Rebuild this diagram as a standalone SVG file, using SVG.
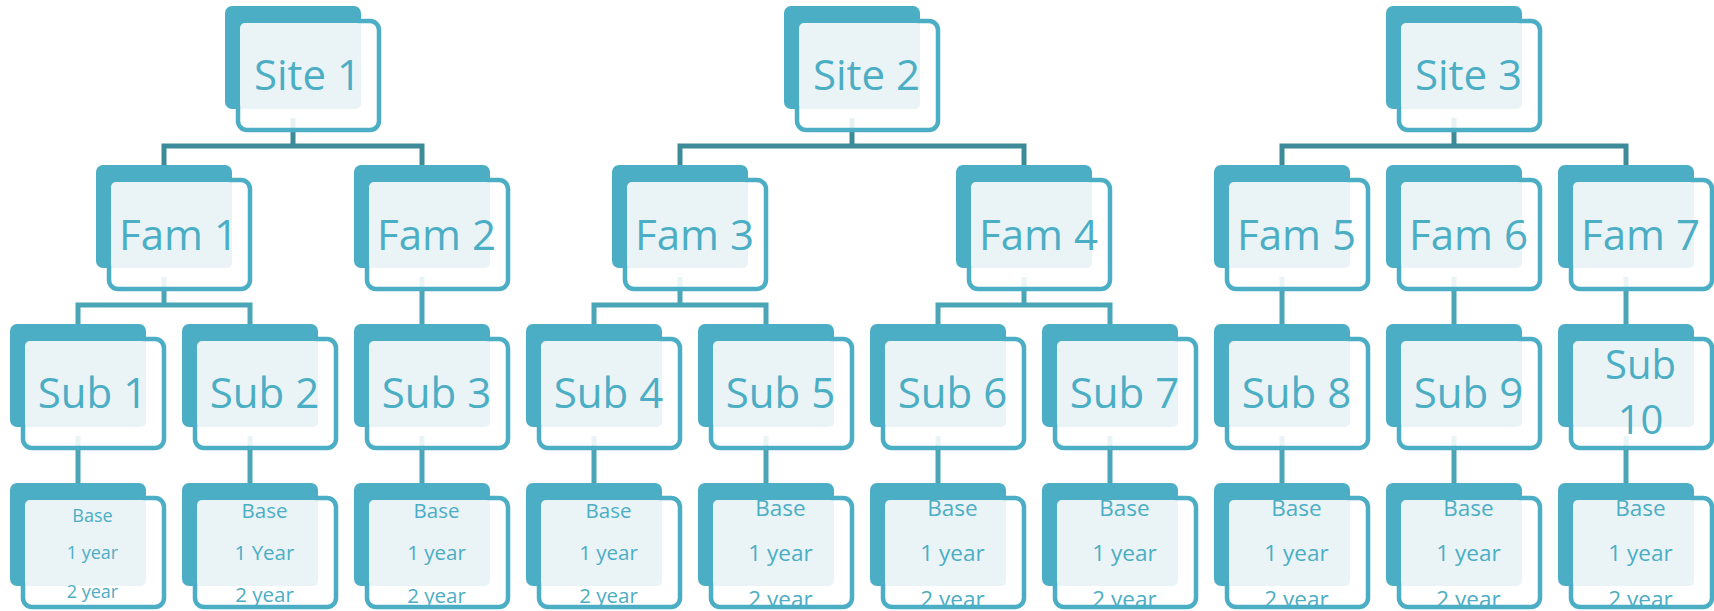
<svg xmlns="http://www.w3.org/2000/svg" width="1714" height="611" viewBox="0 0 1714 611">
<defs>
<style>
.back{fill:#4BAEC4}
.frame{fill:#fff;fill-opacity:0.88;stroke:#4BAEC4;stroke-width:4.5}
.light{fill:#EAF4F7}
.t{font-family:"Open Sans","Noto Sans","Liberation Sans",sans-serif;fill:#4BAEC4;text-anchor:middle}
.big{font-size:42px}
.two{font-size:40px}
.s18{font-size:18px}
.s20{font-size:20.5px}
.s22{font-size:22.5px}
.c1{fill:none;stroke:#3D8B99;stroke-width:5}
.c2{fill:none;stroke:#4AA5B7;stroke-width:5}
</style>
<clipPath id="inner"><rect x="15" y="17" width="137" height="105" rx="6"/></clipPath>
</defs>
<rect width="1714" height="611" fill="#fff"/>
<g id="connectors">
<path class="c1" d="M293,118V146M164,165V146H422V165"/>
<path class="c1" d="M852,118V146M680,165V146H1024V165"/>
<path class="c1" d="M1454,118V146M1282,165V146H1626V165"/>
<path class="c2" d="M164,277V305M78,324V305H250V324"/>
<path class="c2" d="M422,277V324"/>
<path class="c2" d="M680,277V305M594,324V305H766V324"/>
<path class="c2" d="M1024,277V305M938,324V305H1110V324"/>
<path class="c2" d="M1282,277V324M1454,277V324M1626,277V324"/>
<path class="c2" d="M78,436V483M250,436V483M422,436V483M594,436V483M766,436V483M938,436V483M1110,436V483M1282,436V483M1454,436V483M1626,436V483"/>
</g>
<g id="site1" transform="translate(225,6)"><rect class="back" width="136" height="103" rx="7"/><rect class="frame" x="13" y="15" width="141" height="109" rx="9"/><rect class="light" x="15" y="17" width="121" height="86" rx="5"/><text class="t big" x="82.5" y="84" clip-path="url(#inner)">Site 1</text></g>
<g id="site2" transform="translate(784,6)"><rect class="back" width="136" height="103" rx="7"/><rect class="frame" x="13" y="15" width="141" height="109" rx="9"/><rect class="light" x="15" y="17" width="121" height="86" rx="5"/><text class="t big" x="82.5" y="84" clip-path="url(#inner)">Site 2</text></g>
<g id="site3" transform="translate(1386,6)"><rect class="back" width="136" height="103" rx="7"/><rect class="frame" x="13" y="15" width="141" height="109" rx="9"/><rect class="light" x="15" y="17" width="121" height="86" rx="5"/><text class="t big" x="82.5" y="84" clip-path="url(#inner)">Site 3</text></g>
<g id="fam1" transform="translate(96,165)"><rect class="back" width="136" height="103" rx="7"/><rect class="frame" x="13" y="15" width="141" height="109" rx="9"/><rect class="light" x="15" y="17" width="121" height="86" rx="5"/><text class="t big" x="82.5" y="85" clip-path="url(#inner)">Fam 1</text></g>
<g id="fam2" transform="translate(354,165)"><rect class="back" width="136" height="103" rx="7"/><rect class="frame" x="13" y="15" width="141" height="109" rx="9"/><rect class="light" x="15" y="17" width="121" height="86" rx="5"/><text class="t big" x="82.5" y="85" clip-path="url(#inner)">Fam 2</text></g>
<g id="fam3" transform="translate(612,165)"><rect class="back" width="136" height="103" rx="7"/><rect class="frame" x="13" y="15" width="141" height="109" rx="9"/><rect class="light" x="15" y="17" width="121" height="86" rx="5"/><text class="t big" x="82.5" y="85" clip-path="url(#inner)">Fam 3</text></g>
<g id="fam4" transform="translate(956,165)"><rect class="back" width="136" height="103" rx="7"/><rect class="frame" x="13" y="15" width="141" height="109" rx="9"/><rect class="light" x="15" y="17" width="121" height="86" rx="5"/><text class="t big" x="82.5" y="85" clip-path="url(#inner)">Fam 4</text></g>
<g id="fam5" transform="translate(1214,165)"><rect class="back" width="136" height="103" rx="7"/><rect class="frame" x="13" y="15" width="141" height="109" rx="9"/><rect class="light" x="15" y="17" width="121" height="86" rx="5"/><text class="t big" x="82.5" y="85" clip-path="url(#inner)">Fam 5</text></g>
<g id="fam6" transform="translate(1386,165)"><rect class="back" width="136" height="103" rx="7"/><rect class="frame" x="13" y="15" width="141" height="109" rx="9"/><rect class="light" x="15" y="17" width="121" height="86" rx="5"/><text class="t big" x="82.5" y="85" clip-path="url(#inner)">Fam 6</text></g>
<g id="fam7" transform="translate(1558,165)"><rect class="back" width="136" height="103" rx="7"/><rect class="frame" x="13" y="15" width="141" height="109" rx="9"/><rect class="light" x="15" y="17" width="121" height="86" rx="5"/><text class="t big" x="82.5" y="85" clip-path="url(#inner)">Fam 7</text></g>
<g id="sub1" transform="translate(10,324)"><rect class="back" width="136" height="103" rx="7"/><rect class="frame" x="13" y="15" width="141" height="109" rx="9"/><rect class="light" x="15" y="17" width="121" height="86" rx="5"/><text class="t big" x="82.5" y="84" clip-path="url(#inner)">Sub 1</text></g>
<g id="sub2" transform="translate(182,324)"><rect class="back" width="136" height="103" rx="7"/><rect class="frame" x="13" y="15" width="141" height="109" rx="9"/><rect class="light" x="15" y="17" width="121" height="86" rx="5"/><text class="t big" x="82.5" y="84" clip-path="url(#inner)">Sub 2</text></g>
<g id="sub3" transform="translate(354,324)"><rect class="back" width="136" height="103" rx="7"/><rect class="frame" x="13" y="15" width="141" height="109" rx="9"/><rect class="light" x="15" y="17" width="121" height="86" rx="5"/><text class="t big" x="82.5" y="84" clip-path="url(#inner)">Sub 3</text></g>
<g id="sub4" transform="translate(526,324)"><rect class="back" width="136" height="103" rx="7"/><rect class="frame" x="13" y="15" width="141" height="109" rx="9"/><rect class="light" x="15" y="17" width="121" height="86" rx="5"/><text class="t big" x="82.5" y="84" clip-path="url(#inner)">Sub 4</text></g>
<g id="sub5" transform="translate(698,324)"><rect class="back" width="136" height="103" rx="7"/><rect class="frame" x="13" y="15" width="141" height="109" rx="9"/><rect class="light" x="15" y="17" width="121" height="86" rx="5"/><text class="t big" x="82.5" y="84" clip-path="url(#inner)">Sub 5</text></g>
<g id="sub6" transform="translate(870,324)"><rect class="back" width="136" height="103" rx="7"/><rect class="frame" x="13" y="15" width="141" height="109" rx="9"/><rect class="light" x="15" y="17" width="121" height="86" rx="5"/><text class="t big" x="82.5" y="84" clip-path="url(#inner)">Sub 6</text></g>
<g id="sub7" transform="translate(1042,324)"><rect class="back" width="136" height="103" rx="7"/><rect class="frame" x="13" y="15" width="141" height="109" rx="9"/><rect class="light" x="15" y="17" width="121" height="86" rx="5"/><text class="t big" x="82.5" y="84" clip-path="url(#inner)">Sub 7</text></g>
<g id="sub8" transform="translate(1214,324)"><rect class="back" width="136" height="103" rx="7"/><rect class="frame" x="13" y="15" width="141" height="109" rx="9"/><rect class="light" x="15" y="17" width="121" height="86" rx="5"/><text class="t big" x="82.5" y="84" clip-path="url(#inner)">Sub 8</text></g>
<g id="sub9" transform="translate(1386,324)"><rect class="back" width="136" height="103" rx="7"/><rect class="frame" x="13" y="15" width="141" height="109" rx="9"/><rect class="light" x="15" y="17" width="121" height="86" rx="5"/><text class="t big" x="82.5" y="84" clip-path="url(#inner)">Sub 9</text></g>
<g id="sub10" transform="translate(1558,324)"><rect class="back" width="136" height="103" rx="7"/><rect class="frame" x="13" y="15" width="141" height="109" rx="9"/><rect class="light" x="15" y="17" width="121" height="86" rx="5"/><text class="t two" x="82.5" clip-path="url(#inner)"><tspan x="82.5" y="55">Sub</tspan><tspan x="82.5" y="110">10</tspan></text></g>
<g id="base1" transform="translate(10,483)"><rect class="back" width="136" height="103" rx="7"/><rect class="frame" x="13" y="15" width="141" height="109" rx="9"/><rect class="light" x="15" y="17" width="121" height="86" rx="5"/><text class="t s18" clip-path="url(#inner)"><tspan x="82.5" y="39">Base</tspan><tspan x="82.5" y="76">1 year</tspan><tspan x="82.5" y="115">2 year</tspan></text></g>
<g id="base2" transform="translate(182,483)"><rect class="back" width="136" height="103" rx="7"/><rect class="frame" x="13" y="15" width="141" height="109" rx="9"/><rect class="light" x="15" y="17" width="121" height="86" rx="5"/><text class="t s20" clip-path="url(#inner)"><tspan x="82.5" y="35">Base</tspan><tspan x="82.5" y="77">1 Year</tspan><tspan x="82.5" y="119">2 year</tspan></text></g>
<g id="base3" transform="translate(354,483)"><rect class="back" width="136" height="103" rx="7"/><rect class="frame" x="13" y="15" width="141" height="109" rx="9"/><rect class="light" x="15" y="17" width="121" height="86" rx="5"/><text class="t s20" clip-path="url(#inner)"><tspan x="82.5" y="35">Base</tspan><tspan x="82.5" y="77">1 year</tspan><tspan x="82.5" y="120">2 year</tspan></text></g>
<g id="base4" transform="translate(526,483)"><rect class="back" width="136" height="103" rx="7"/><rect class="frame" x="13" y="15" width="141" height="109" rx="9"/><rect class="light" x="15" y="17" width="121" height="86" rx="5"/><text class="t s20" clip-path="url(#inner)"><tspan x="82.5" y="35">Base</tspan><tspan x="82.5" y="77">1 year</tspan><tspan x="82.5" y="120">2 year</tspan></text></g>
<g id="base5" transform="translate(698,483)"><rect class="back" width="136" height="103" rx="7"/><rect class="frame" x="13" y="15" width="141" height="109" rx="9"/><rect class="light" x="15" y="17" width="121" height="86" rx="5"/><text class="t s22" clip-path="url(#inner)"><tspan x="82.5" y="33">Base</tspan><tspan x="82.5" y="78">1 year</tspan><tspan x="82.5" y="124">2 year</tspan></text></g>
<g id="base6" transform="translate(870,483)"><rect class="back" width="136" height="103" rx="7"/><rect class="frame" x="13" y="15" width="141" height="109" rx="9"/><rect class="light" x="15" y="17" width="121" height="86" rx="5"/><text class="t s22" clip-path="url(#inner)"><tspan x="82.5" y="33">Base</tspan><tspan x="82.5" y="78">1 year</tspan><tspan x="82.5" y="124">2 year</tspan></text></g>
<g id="base7" transform="translate(1042,483)"><rect class="back" width="136" height="103" rx="7"/><rect class="frame" x="13" y="15" width="141" height="109" rx="9"/><rect class="light" x="15" y="17" width="121" height="86" rx="5"/><text class="t s22" clip-path="url(#inner)"><tspan x="82.5" y="33">Base</tspan><tspan x="82.5" y="78">1 year</tspan><tspan x="82.5" y="124">2 year</tspan></text></g>
<g id="base8" transform="translate(1214,483)"><rect class="back" width="136" height="103" rx="7"/><rect class="frame" x="13" y="15" width="141" height="109" rx="9"/><rect class="light" x="15" y="17" width="121" height="86" rx="5"/><text class="t s22" clip-path="url(#inner)"><tspan x="82.5" y="33">Base</tspan><tspan x="82.5" y="78">1 year</tspan><tspan x="82.5" y="124">2 year</tspan></text></g>
<g id="base9" transform="translate(1386,483)"><rect class="back" width="136" height="103" rx="7"/><rect class="frame" x="13" y="15" width="141" height="109" rx="9"/><rect class="light" x="15" y="17" width="121" height="86" rx="5"/><text class="t s22" clip-path="url(#inner)"><tspan x="82.5" y="33">Base</tspan><tspan x="82.5" y="78">1 year</tspan><tspan x="82.5" y="124">2 year</tspan></text></g>
<g id="base10" transform="translate(1558,483)"><rect class="back" width="136" height="103" rx="7"/><rect class="frame" x="13" y="15" width="141" height="109" rx="9"/><rect class="light" x="15" y="17" width="121" height="86" rx="5"/><text class="t s22" clip-path="url(#inner)"><tspan x="82.5" y="33">Base</tspan><tspan x="82.5" y="78">1 year</tspan><tspan x="82.5" y="124">2 year</tspan></text></g>
</svg>
